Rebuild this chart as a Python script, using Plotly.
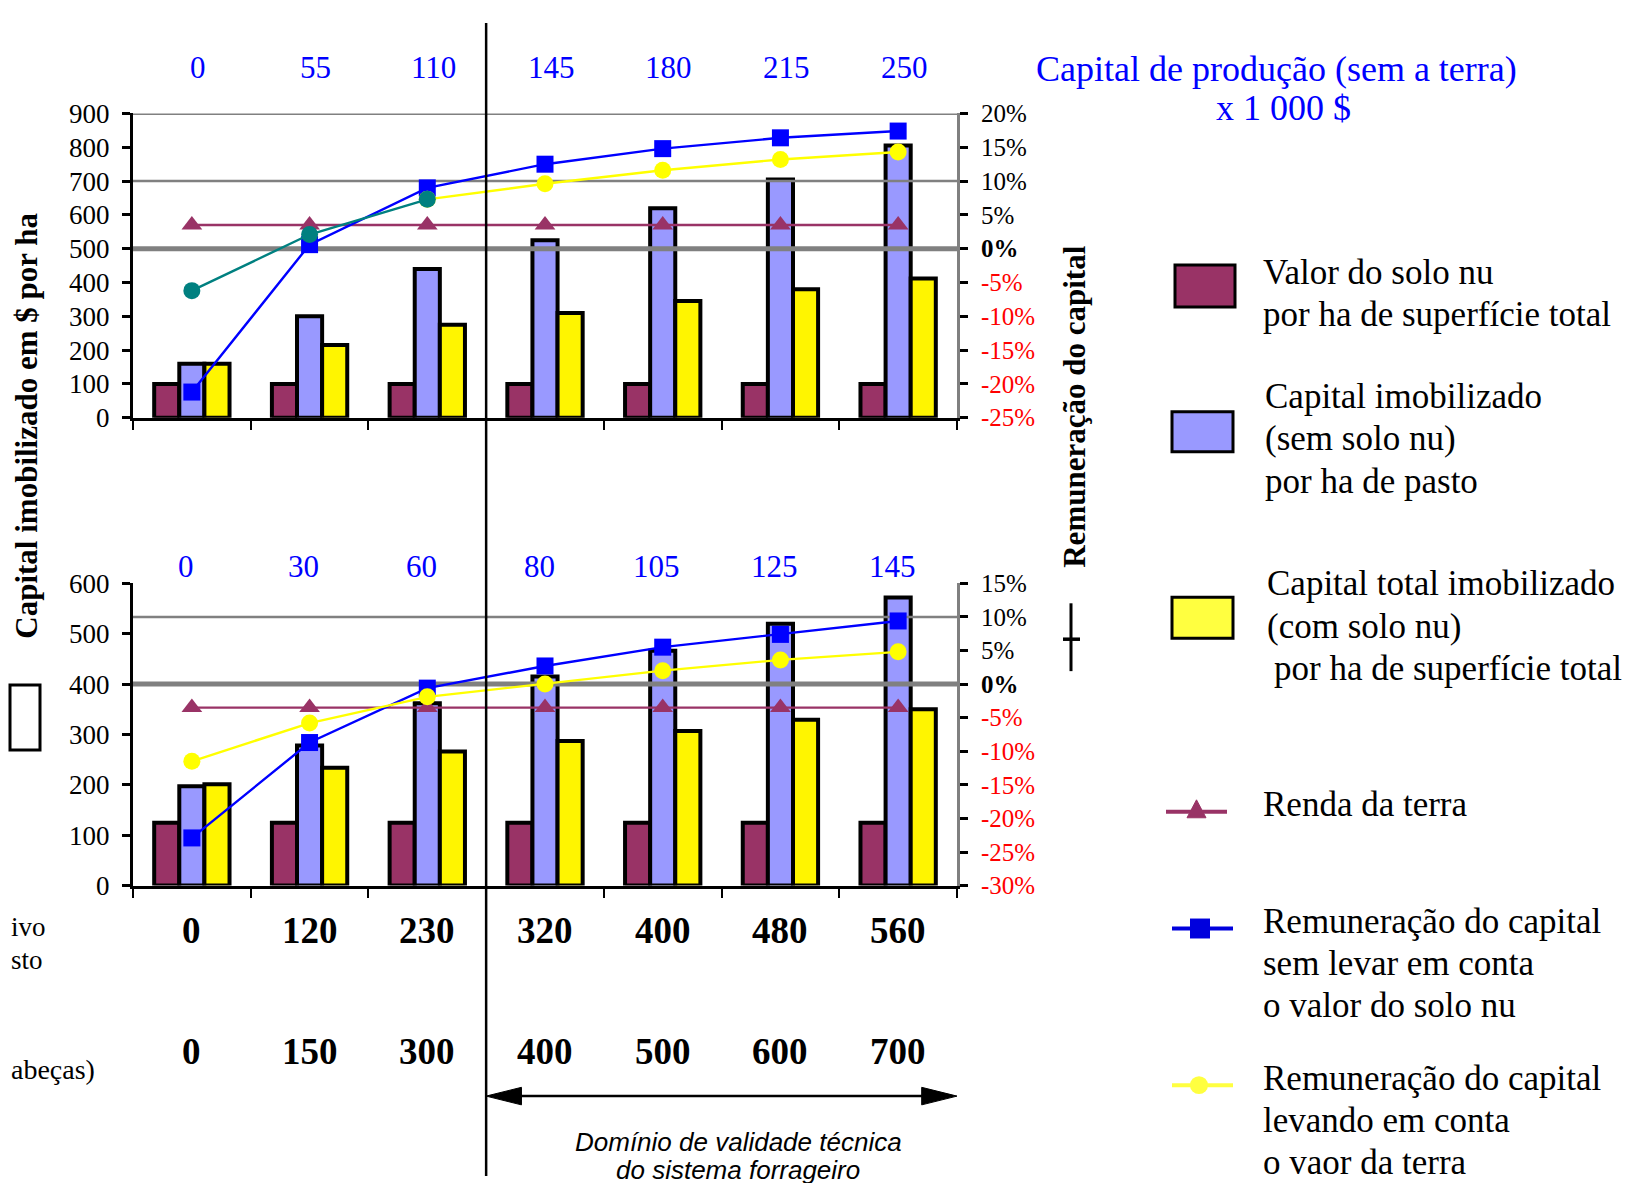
import plotly.graph_objects as go

W, H = 1652, 1183
# page placement correction (measured from the rendered picture)
OX, OY, SY = 8.0, 21.3, 0.977
def px(x): return (x - OX) / W
def py(y): return 1 - ((y - OY) / SY) / H

SERIF = "Liberation Serif, Times New Roman, serif"
SANS = "Liberation Sans, Arial, sans-serif"

# ---------------- data ----------------
x_pos = [0, 1, 2, 3, 4, 5, 6]
cap_prod_top = ["0", "55", "110", "145", "180", "215", "250"]
cap_prod_bot = ["0", "30", "60", "80", "105", "125", "145"]
efetivo_labels = ["0", "120", "230", "320", "400", "480", "560"]
cabecas_labels = ["0", "150", "300", "400", "500", "600", "700"]

# top chart (left axis $/ha, right axis %)
top_solo = [100, 100, 100, 100, 100, 100, 100]
top_cap_sem = [160, 300, 440, 525, 620, 705, 805]
top_cap_total = [160, 215, 275, 310, 345, 380, 412]
top_rem_sem = [-21.2, 0.6, 9.0, 12.5, 14.8, 16.4, 17.4]
top_rem_com = [-6.2, 2.1, 7.3, 9.6, 11.6, 13.2, 14.3]
top_renda = [3.5, 3.5, 3.5, 3.5, 3.5, 3.5, 3.5]

# bottom chart
bot_solo = [125, 125, 125, 125, 125, 125, 125]
bot_cap_sem = [197, 278, 362, 415, 466, 520, 572]
bot_cap_total = [201, 234, 266, 287, 307, 329, 350]
bot_rem_sem = [-22.9, -8.7, -0.6, 2.7, 5.5, 7.4, 9.4]
bot_rem_com = [-11.5, -5.8, -1.9, 0.0, 2.0, 3.6, 4.8]
bot_renda = [-3.5, -3.5, -3.5, -3.5, -3.5, -3.5, -3.5]

top_left_ticks = [0, 100, 200, 300, 400, 500, 600, 700, 800, 900]
top_right_ticks = [-25, -20, -15, -10, -5, 0, 5, 10, 15, 20]
bot_left_ticks = [0, 100, 200, 300, 400, 500, 600]
bot_right_ticks = [-30, -25, -20, -15, -10, -5, 0, 5, 10, 15]
top_ref_levels = [20, 10, 0]
top_ref_widths = [3, 2.5, 5]
bot_ref_levels = [10, 0]
bot_ref_widths = [2.5, 5]

C_PURPLE = "#993366"
C_LBLUE = "#9999FF"
C_YELLOW = "#FFF500"
C_BLUE = "#0000FF"
C_LYELLOW = "#FFFF00"
C_TEAL = "#008080"
C_GRAY = "#808080"

def pct_text(v):
    if v < 0:
        return f'<span style="color:#FF0000">{v}%</span>'
    if v == 0:
        return "<b>0%</b>"
    return f"{v}%"

fig = go.Figure()

def add_bars(xa, ya, solo, sem, tot):
    for vals, col in [(solo, C_PURPLE), (sem, C_LBLUE), (tot, C_YELLOW)]:
        fig.add_trace(go.Bar(x=x_pos, y=vals, xaxis=xa, yaxis=ya,
                             marker=dict(color=col, line=dict(color="black", width=4)),
                             showlegend=False, hoverinfo="skip"))

add_bars("x", "y", top_solo, top_cap_sem, top_cap_total)
add_bars("x2", "y3", bot_solo, bot_cap_sem, bot_cap_total)

def add_refs(xa, ya, levels, widths):
    for lv, w in zip(levels, widths):
        fig.add_trace(go.Scatter(x=[-0.5, 6.5], y=[lv, lv], xaxis=xa, yaxis=ya, mode="lines",
                                 line=dict(color=C_GRAY, width=w), showlegend=False,
                                 hoverinfo="skip", cliponaxis=False))

add_refs("x", "y2", top_ref_levels, top_ref_widths)
add_refs("x2", "y4", bot_ref_levels, bot_ref_widths)

def line_trace(xa, ya, xs, ys, color, symbol, size=16, width=2.4):
    fig.add_trace(go.Scatter(x=xs, y=ys, xaxis=xa, yaxis=ya, mode="lines+markers",
                             line=dict(color=color, width=width),
                             marker=dict(color=color, symbol=symbol, size=size, line=dict(width=0)),
                             showlegend=False, hoverinfo="skip", cliponaxis=False))

# top lines
line_trace("x", "y2", x_pos, top_renda, C_PURPLE, "triangle-up", 18)
line_trace("x", "y2", x_pos, top_rem_sem, C_BLUE, "square", 17)
line_trace("x", "y2", x_pos[2:], top_rem_com[2:], C_LYELLOW, "circle", 17)
line_trace("x", "y2", x_pos[:3], top_rem_com[:3], C_TEAL, "circle", 17)
# bottom lines
line_trace("x2", "y4", x_pos, bot_renda, C_PURPLE, "triangle-up", 18)
line_trace("x2", "y4", x_pos, bot_rem_sem, C_BLUE, "square", 17)
line_trace("x2", "y4", x_pos, bot_rem_com, C_LYELLOW, "circle", 17)

xdom = [px(133), px(957)]
bound_ticks = [-0.5, 0.5, 1.5, 2.5, 3.5, 4.5, 5.5, 6.5]
xcommon = dict(domain=xdom, range=[-0.5, 6.5], tickvals=bound_ticks, ticktext=[""] * 8,
               ticks="outside", ticklen=9, tickwidth=2, tickcolor="black",
               showline=True, linecolor="black", linewidth=3, showgrid=False,
               zeroline=False, showticklabels=False, fixedrange=True)
ycommon_left = dict(side="left", ticks="outside", ticklen=8, tickwidth=2.5, tickcolor="black",
                    showline=True, linecolor="black", linewidth=3, showgrid=False,
                    zeroline=False, tickfont=dict(family=SERIF, size=27, color="black"),
                    ticklabelstandoff=7)
ycommon_right = dict(side="right", ticks="outside", ticklen=8, tickwidth=2.5, tickcolor="black",
                     showline=True, linecolor=C_GRAY, linewidth=3, showgrid=False,
                     zeroline=False, tickfont=dict(family=SERIF, size=25, color="black"),
                     ticklabelstandoff=8)

fig.update_layout(
    width=W, height=H, autosize=False,
    margin=dict(l=0, r=0, t=0, b=0),
    paper_bgcolor="white", plot_bgcolor="rgba(0,0,0,0)",
    barmode="group", bargap=0.36, bargroupgap=0,
    showlegend=False,
    xaxis=dict(anchor="y", **xcommon),
    xaxis2=dict(anchor="y3", **xcommon),
    yaxis=dict(anchor="x", domain=[py(417), py(112)], range=[0, 900],
               tickvals=top_left_ticks, **ycommon_left),
    yaxis2=dict(anchor="x", overlaying="y", range=[-25, 20], tickvals=top_right_ticks,
                ticktext=[pct_text(v) for v in top_right_ticks], **ycommon_right),
    yaxis3=dict(anchor="x2", domain=[py(886), py(583)], range=[0, 600],
                tickvals=bot_left_ticks, **ycommon_left),
    yaxis4=dict(anchor="x2", overlaying="y3", range=[-30, 15], tickvals=bot_right_ticks,
                ticktext=[pct_text(v) for v in bot_right_ticks], **ycommon_right),
)

ann = []
def text(x, y, t, size, color="black", xref="paper", xanchor="center", bold=False,
         family=SERIF, angle=0, italic=False, xshift=0):
    if bold:
        t = f"<b>{t}</b>"
    if italic:
        t = f"<i>{t}</i>"
    ann.append(dict(x=x, y=y, xref=xref, yref="paper", text=t, showarrow=False,
                    font=dict(family=family, size=size, color=color),
                    xanchor=xanchor, yanchor="middle", textangle=angle, xshift=xshift))

for i, (a, b, c, d) in enumerate(zip(cap_prod_top, cap_prod_bot, efetivo_labels, cabecas_labels)):
    text(x_pos[i], py(66), a, 31, color="#0000FF", xref="x", xshift=6)
    text(x_pos[i], py(566), b, 31, color="#0000FF", xref="x2", xshift=-6)
    text(x_pos[i], py(931), c, 37, xref="x2", bold=True)
    text(x_pos[i], py(1052), d, 37, xref="x2", bold=True)

# titles
text(px(1276), py(67), "Capital de produção (sem a terra)", 36, color="#0000FF")
text(px(1283), py(107), "x 1 000 $", 36, color="#0000FF")
text(px(27), py(425), "Capital imobilizado em $ por ha", 31, bold=True, angle=-90)
text(px(1075), py(406), "Remuneração do capital", 31, bold=True, angle=-90)

# cut-off left labels (as visible in the picture)
text(0.0008, py(927), "ivo", 27, xanchor="left")
text(0.0008, py(961), "sto", 27, xanchor="left")
text(0.0008, py(1070), "abeças)", 28, xanchor="left")

# domain caption
text(px(738), py(1143), "Domínio de validade técnica", 26, family=SANS, italic=True)
text(px(738), py(1171), "do sistema forrageiro", 26, family=SANS, italic=True)

# legend texts
leg_lines = [
    (1261, 271, "Valor do solo nu"), (1261, 314, "por ha de superfície total"),
    (1263, 396, "Capital imobilizado"), (1263, 438, "(sem solo nu)"), (1263, 481, "por ha de pasto"),
    (1265, 583, "Capital total imobilizado"), (1265, 626, "(com solo nu)"),
    (1272, 668, "por ha de superfície total"),
    (1261, 805, "Renda da terra"),
    (1261, 922, "Remuneração do capital"), (1261, 964, "sem levar em conta"),
    (1261, 1006, "o valor do solo nu"),
    (1261, 1079, "Remuneração do capital"), (1261, 1121, "levando em conta"),
    (1261, 1164, "o vaor da terra"),
]
for lx, ly, t in leg_lines:
    text(px(lx), py(ly), t, 35, xanchor="left")

fig.update_layout(annotations=ann)

shapes = []
# divider vertical line
shapes.append(dict(type="line", xref="x", yref="paper", x0=2.5, x1=2.5, y0=1.0, y1=0.0,
                   line=dict(color="black", width=2.5)))
# double arrow
ay = py(1097)
dxh = 0.30
hh = 9 / H
shapes.append(dict(type="line", xref="x2", yref="paper", x0=2.6, x1=6.4, y0=ay, y1=ay,
                   line=dict(color="black", width=2.5)))
shapes.append(dict(type="path", xref="x2", yref="paper",
                   path=f"M 2.5 {ay} L {2.5+dxh} {ay+hh} L {2.5+dxh} {ay-hh} Z",
                   fillcolor="black", line=dict(color="black", width=1)))
shapes.append(dict(type="path", xref="x2", yref="paper",
                   path=f"M 6.5 {ay} L {6.5-dxh} {ay+hh} L {6.5-dxh} {ay-hh} Z",
                   fillcolor="black", line=dict(color="black", width=1)))
# left empty box
shapes.append(dict(type="rect", xref="paper", yref="paper", x0=px(10), x1=px(40),
                   y0=py(685), y1=py(750), line=dict(color="black", width=3)))
# small cross symbol on right
shapes.append(dict(type="line", xref="paper", yref="paper", x0=px(1071), x1=px(1071),
                   y0=py(603), y1=py(671), line=dict(color="black", width=3)))
shapes.append(dict(type="line", xref="paper", yref="paper", x0=px(1063), x1=px(1080),
                   y0=py(639), y1=py(639), line=dict(color="black", width=3.5)))

# legend boxes
for (x0, x1, y0, y1, col) in [(1175, 1235, 264, 306, C_PURPLE), (1172, 1233, 411, 451, C_LBLUE),
                              (1172, 1233, 597, 638, "#FFFF40")]:
    shapes.append(dict(type="rect", xref="paper", yref="paper", x0=px(x0), x1=px(x1),
                       y0=py(y0), y1=py(y1), fillcolor=col, line=dict(color="black", width=3)))
# legend line glyphs
shapes.append(dict(type="line", xref="paper", yref="paper", x0=px(1166), x1=px(1227),
                   y0=py(812), y1=py(812), line=dict(color=C_PURPLE, width=4)))
shapes.append(dict(type="path", xref="paper", yref="paper",
                   path=f"M {px(1187)} {py(818)} L {px(1206)} {py(818)} L {px(1196.5)} {py(800)} Z",
                   fillcolor=C_PURPLE, line=dict(color=C_PURPLE, width=1)))
shapes.append(dict(type="line", xref="paper", yref="paper", x0=px(1172), x1=px(1233),
                   y0=py(929), y1=py(929), line=dict(color="#0000DD", width=4)))
shapes.append(dict(type="rect", xref="paper", yref="paper", x0=px(1190), x1=px(1210),
                   y0=py(919), y1=py(939), fillcolor="#0000DD", line=dict(width=0)))
shapes.append(dict(type="line", xref="paper", yref="paper", x0=px(1172), x1=px(1233),
                   y0=py(1086), y1=py(1086), line=dict(color="#FFFF40", width=4)))
shapes.append(dict(type="circle", xref="paper", yref="paper", x0=px(1190), x1=px(1208),
                   y0=py(1077), y1=py(1095), fillcolor="#FFFF40", line=dict(width=0)))

fig.update_layout(shapes=shapes)

fig.write_html("out.html")
